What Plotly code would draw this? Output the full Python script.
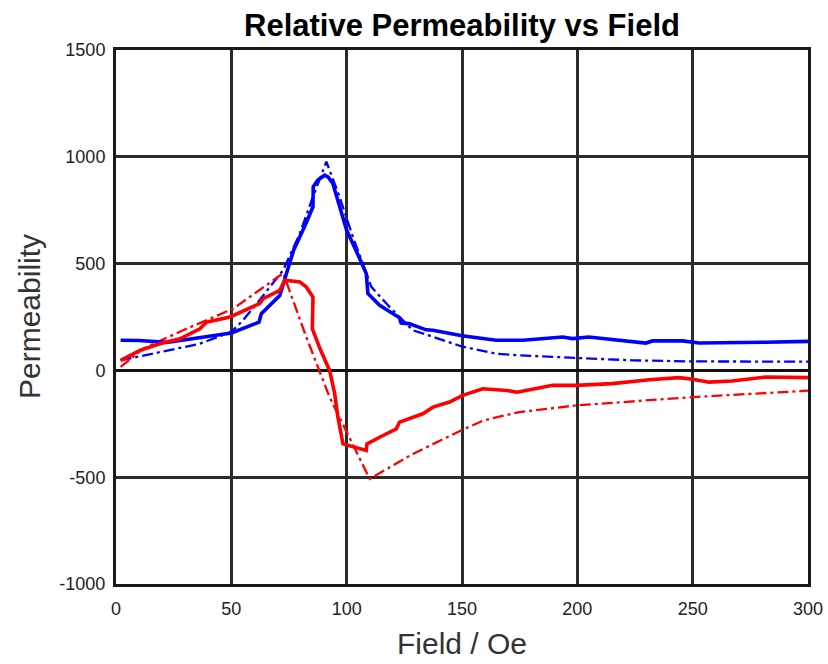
import plotly.graph_objects as go

# Blue solid
blue_solid_x = [2, 10, 22, 35, 50, 62, 63, 71, 74, 77, 82, 85.4, 85.5, 87.5, 90.5, 92, 94, 96.2, 100, 104, 108.5, 109.2, 114.3, 122.9, 123.6, 127, 134.5, 137.4, 150, 164.8, 176.4, 193.6, 197.9, 205, 215, 229.7, 232.6, 245.6, 252.8, 267, 281.6, 300]
blue_solid_y = [141, 140, 131, 150, 175, 226, 265, 351, 453, 563, 680, 766, 860, 891, 914, 905, 875, 789, 656, 563, 453, 360, 305, 246, 222, 219, 190, 188, 162, 141, 141, 156, 149, 156, 145, 128, 138, 138, 128, 128, 132, 136]

# Blue dash-dot
blue_dd_x = [2, 22, 36.4, 50, 55, 61, 66.7, 72.5, 79.7, 85.4, 91.2, 96.9, 102.7, 110.7, 118.6, 128.7, 150, 164.8, 175, 199.4, 224, 250, 300]
blue_dd_y = [47, 94, 125, 180, 234, 312, 391, 470, 641, 813, 977, 813, 625, 391, 297, 188, 112, 78, 70, 59, 47, 42, 41]

# Red solid
red_solid_x = [2, 10.4, 19, 27.7, 36.4, 39.2, 49.4, 62.3, 63.8, 71, 73.2, 79.7, 82.5, 85.4, 85.1, 88.5, 92.6, 94.8, 96.2, 98.4, 108.5, 108.8, 114.3, 121.5, 122.9, 133, 137.4, 144.6, 150.3, 159, 169.5, 173.8, 189.3, 199.4, 215, 231.2, 244.2, 250, 257.2, 267, 281.6, 300]
red_solid_y = [47, 94, 125, 148, 195, 226, 250, 313, 336, 375, 422, 414, 391, 344, 195, 100, 0, -109, -219, -344, -375, -344, -313, -274, -242, -203, -172, -148, -117, -86, -94, -102, -70, -70, -62, -44, -34, -41, -55, -50, -31, -34]

# Red dash-dot
red_dd_x = [2, 11.8, 29.1, 50.8, 72.5, 82.5, 92.6, 110, 128.7, 149.6, 159.4, 174.9, 199.4, 250, 300]
red_dd_y = [16, 102, 188, 289, 455, 156, -125, -508, -391, -281, -234, -195, -164, -125, -95]

x_ticks = [0, 50, 100, 150, 200, 250, 300]
y_ticks = [-1000, -500, 0, 500, 1000, 1500]

W, H = 828, 664
L, R, T, B = 116, 20, 50, 80

fig = go.Figure()
fig.add_trace(go.Scatter(x=blue_dd_x, y=blue_dd_y, mode="lines",
                         line=dict(color="#0000ff", width=2.3, dash="11px,4px,3px,4px")))
fig.add_trace(go.Scatter(x=red_dd_x, y=red_dd_y, mode="lines",
                         line=dict(color="#ff0000", width=2.3, dash="11px,4px,3px,4px")))
fig.add_trace(go.Scatter(x=blue_solid_x, y=blue_solid_y, mode="lines",
                         line=dict(color="#0000ff", width=3.6)))
fig.add_trace(go.Scatter(x=red_solid_x, y=red_solid_y, mode="lines",
                         line=dict(color="#ff0000", width=3.6)))

font_family = "Liberation Sans, Arial, sans-serif"
plot_w = W - L - R
plot_h = H - T - B
fig.update_layout(
    width=W, height=H,
    margin=dict(l=L, r=R, t=T, b=B, autoexpand=False),
    paper_bgcolor="white", plot_bgcolor="white",
    showlegend=False,
    title=dict(text="<b>Relative Permeability vs Field</b>", x=(L + plot_w / 2) / W, xanchor="center",
               y=1 - 25 / H, yanchor="middle",
               font=dict(family=font_family, size=31, color="black")),
    font=dict(family=font_family, color="#222"),
    annotations=[
        dict(text="Field / Oe", xref="paper", yref="paper", x=0.5, y=-(643 - (H - B)) / plot_h,
             xanchor="center", yanchor="middle", showarrow=False,
             font=dict(family=font_family, size=30, color="#333")),
        dict(text="Permeability", xref="paper", yref="paper", x=-(L - 29) / plot_w, y=0.5,
             xanchor="center", yanchor="middle", showarrow=False, textangle=-90,
             font=dict(family=font_family, size=30, color="#333")),
    ],
)
fig.update_xaxes(range=[0, 300], tickvals=x_ticks, ticktext=[str(v) for v in x_ticks],
                 automargin=False,
                 showgrid=True, gridcolor="#2b2b2b", gridwidth=2.6,
                 showline=True, linecolor="#1a1a1a", linewidth=3, mirror=True,
                 zeroline=False, ticks="outside", ticklen=6, tickcolor="rgba(0,0,0,0)",
                 tickfont=dict(size=18, color="#222"))
fig.update_yaxes(range=[-1000, 1500], tickvals=y_ticks, ticktext=[str(v) for v in y_ticks],
                 automargin=False,
                 showgrid=True, gridcolor="#2b2b2b", gridwidth=2.6,
                 showline=True, linecolor="#1a1a1a", linewidth=3, mirror=True,
                 zeroline=True, zerolinecolor="#111", zerolinewidth=3,
                 ticks="outside", ticklen=4, tickcolor="rgba(0,0,0,0)",
                 tickfont=dict(size=18, color="#222"))

fig.write_html("out.html", config={"displayModeBar": False},
               post_script="document.body.style.margin='0';")
